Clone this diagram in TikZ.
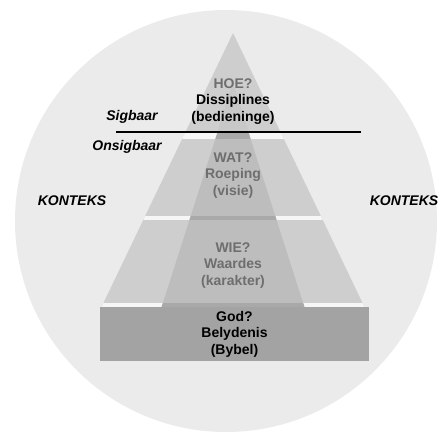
\documentclass[tikz,border=0pt]{standalone}
\usepackage{fontspec}
\setmainfont{Liberation Sans}
\usepackage{tikz}
\usepackage{xcolor}

\definecolor{ring}{HTML}{EBEBEB}
\definecolor{gapgrey}{HTML}{F6F6F6}
\definecolor{outergrey}{HTML}{CECECE}
\definecolor{innergrey}{HTML}{BDBDBD}
\definecolor{innertop}{HTML}{C8C8C8}
\definecolor{bandgrey}{HTML}{A9A9A9}
\definecolor{basegrey}{HTML}{A3A3A3}
\definecolor{softtext}{HTML}{6E6E6E}

\begin{document}
\begin{tikzpicture}[x=1pt, y=-1pt,
    layertext/.style={align=center, font=\fontsize{14}{16.5}\selectfont\bfseries},
    sidetext/.style={font=\fontsize{14}{16}\selectfont\bfseries\itshape}]
  \useasboundingbox (0,0) rectangle (441,432);

  % context circle
  \fill[ring] (226,221) circle (211);

  % pyramid
  \fill[outergrey] (233,33) -- (364.5,307) -- (101.5,307) -- cycle;
  \begin{scope}
    \clip (233,33) -- (364.5,307) -- (101.5,307) -- cycle;
    \foreach \ya/\yb in {131/139, 216/220, 303/307}
      \fill[gapgrey] (90,\ya) rectangle (380,\yb);
    \clip (233,84) -- (304.4,307) -- (161.6,307) -- cycle;
    \fill[innergrey] (150,84) rectangle (320,307);
    \fill[innertop] (150,84) rectangle (320,131);
    \foreach \ya/\yb in {131/139, 216/220, 303/307}
      \fill[bandgrey] (150,\ya) rectangle (320,\yb);
  \end{scope}
  \fill[basegrey] (100,307) rectangle (369,361);

  % visible / invisible
  \draw[line width=1.2pt] (116,132) -- (361,132);

  \node (HOE) [layertext] at (233,101.5) {
    \textcolor{softtext}{HOE?} \\
    Dissiplines \\
    (bedieninge)
  };
  \node (WAT) [layertext, text=softtext] at (233,175.5) {
    WAT? \\
    Roeping \\
    (visie)
  };
  \node (WIE) [layertext, text=softtext] at (233,265.5) {
    WIE? \\
    Waardes \\
    (karakter)
  };
  \node (GOD) [layertext] at (234.5,334) {
    God? \\
    Belydenis \\
    (Bybel)
  };

  \node (S) [sidetext] at (132,117) {Sigbaar};
  \node (O) [sidetext] at (127,147) {Onsigbaar};
  \node (KL) [sidetext] at (72,201) {KONTEKS};
  \node (KR) [sidetext] at (404,201) {KONTEKS};
\end{tikzpicture}
\end{document}
